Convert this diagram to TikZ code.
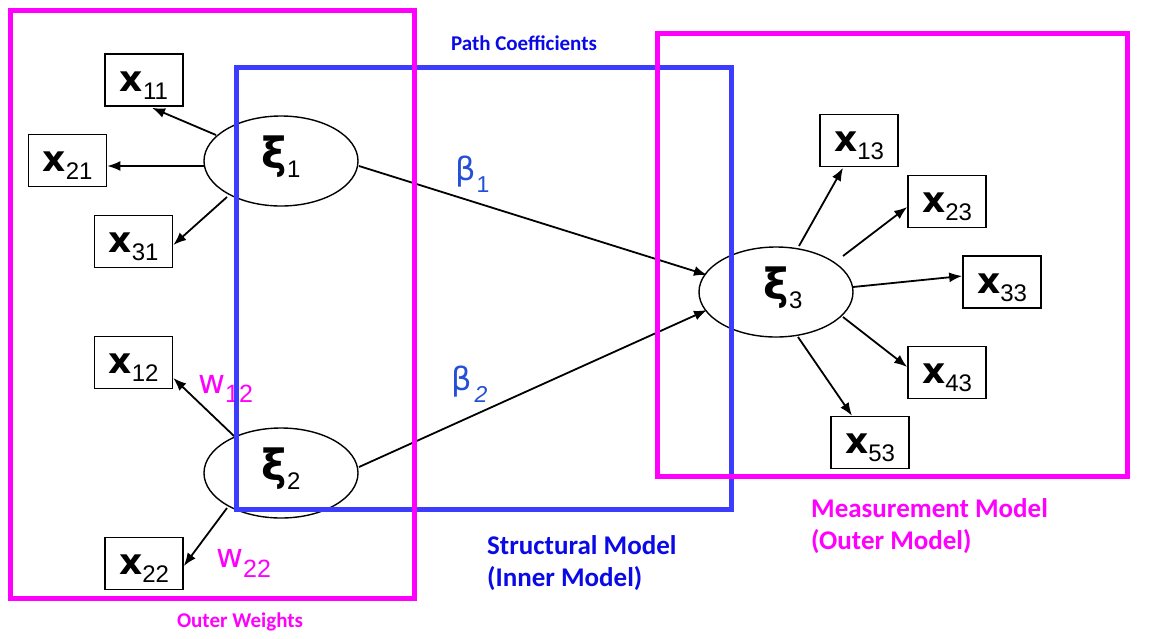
\documentclass[tikz,border=0pt]{standalone}
\usepackage{fontspec}
\setmainfont{Liberation Sans}
\newfontfamily\dvs{DejaVu Sans}
\newfontfamily\carl{Carlito}
\usetikzlibrary{shapes.geometric,arrows.meta,calc}
\definecolor{mag}{RGB}{255,0,255}
\definecolor{bbox}{RGB}{60,60,255}
\definecolor{btxt}{RGB}{10,10,230}
\definecolor{betac}{RGB}{35,80,215}
\newcommand{\xv}[1]{{\dvs\bfseries\fontsize{36}{36}\selectfont x}\raisebox{-8pt}{\fontsize{24}{24}\selectfont #1}}
\newcommand{\xiv}[1]{{\dvs\bfseries\fontsize{43}{43}\selectfont ξ}\raisebox{-9pt}{\fontsize{24}{24}\selectfont #1}}
\begin{document}
\begin{tikzpicture}[x=1pt,y=-1pt,
  box/.style={draw=black, line width=1.6pt, fill=white, minimum width=78pt, minimum height=52pt, inner sep=0pt, text height=25pt, text depth=3pt},
  lat/.style={ellipse, draw=black, line width=1.4pt, fill=white, minimum width=154pt, minimum height=90pt, inner sep=0pt, text height=22pt, text depth=7pt},
  arr/.style={line width=1.8pt, -{Latex[length=13pt,width=10pt]}},
  magbox/.style={draw=mag, line width=5pt},
  bluebox/.style={draw=bbox, line width=5pt},
  lbl/.style={inner sep=0pt, font=\carl\bfseries\fontsize{21}{25}\selectfont},
  big/.style={inner sep=0pt, align=left, font=\carl\bfseries\fontsize{27}{32}\selectfont},
  wl/.style={inner sep=0pt, anchor=base west, text=mag},
  bl/.style={inner sep=0pt, anchor=base west, text=betac}
]
\useasboundingbox (0,0) rectangle (1170,638);
\fill[white] (0,0) rectangle (1170,638);

% latent variables
\node[lat] (xi1) at (281,161) {\xiv{1}};
\node[lat] (xi2) at (281,473) {\xiv{2}};
\node[lat] (xi3) at (776,292) {\hspace*{14pt}\xiv{3}};

% indicators
\node[box] (x11) at (144,80) {\xv{11}};
\node[box] (x21) at (67.5,160.5) {\xv{21}};
\node[box] (x31) at (133.5,241.5) {\xv{31}};
\node[box] (x12) at (133.5,362.5) {\xv{12}};
\node[box] (x22) at (144,563.5) {\xv{22}};
\node[box] (x13) at (859,140.5) {\xv{13}};
\node[box] (x23) at (947,201.5) {\xv{23}};
\node[box] (x33) at (1002,282) {\xv{33}};
\node[box] (x43) at (947,372.5) {\xv{43}};
\node[box] (x53) at (870,442.5) {\xv{53}};

% arrows
\draw[arr] ($(xi1)+(-65,-26)$) -- ($(x11.south)+(8,1)$);
\draw[arr] ($(xi1)+(-77,5)$) -- ($(x21.east)+(0,5.5)$);
\draw[arr] ($(xi1)+(-54,36)$) -- ($(x31.east)+(0,3.5)$);
\draw[arr] ($(xi2)+(-47,-37)$) -- ($(x12.east)+(0,15.5)$);
\draw[arr] ($(xi2)+(-54,35)$) -- ($(x22.east)+(0,2.5)$);
\draw[arr] ($(xi1)+(78,5)$) -- ($(xi3)+(-69,-17)$);
\draw[arr] ($(xi2)+(78,-6)$) -- ($(xi3)+(-69,18)$);
\draw[arr] ($(xi3)+(23,-46)$) -- ($(x13.south)+(-16,0.5)$);
\draw[arr] ($(xi3)+(67,-36)$) -- ($(x23.west)+(0,5.5)$);
\draw[arr] ($(xi3)+(77,-5)$) -- ($(x33.west)+(0,-6)$);
\draw[arr] ($(xi3)+(67,25)$) -- ($(x43.west)+(0,-5.5)$);
\draw[arr] ($(xi3)+(22,45)$) -- ($(x53.north)+(-18,0)$);

% weights and coefficients
\node[wl] (w12) at (198,393) {{\dvs\fontsize{33}{33}\selectfont w}\raisebox{-9pt}{\fontsize{25}{25}\selectfont 12}};
\node[wl] (w22) at (216,567) {{\dvs\fontsize{33}{33}\selectfont w}\raisebox{-10pt}{\fontsize{25}{25}\selectfont 22}};
\node[bl] (b1) at (455,180) {{\dvs\fontsize{32}{32}\selectfont β}\hspace{1pt}\raisebox{-12pt}{\fontsize{23}{23}\selectfont 1}};
\node[bl] (b2) at (451,390) {{\dvs\fontsize{32}{32}\selectfont β}\hspace{3pt}\raisebox{-12pt}{\fontsize{23}{23}\selectfont\itshape 2}};

% frames
\draw[bluebox] (236.5,67) rectangle (731,509.5);
\draw[magbox] (10,10.5) rectangle (414,598);
\draw[magbox] (657,33) rectangle (1127,476.5);

% captions
\node[lbl, text=btxt] (pc) at (524,43) {Path Coefficients};
\node[lbl, text=mag] (ow) at (240,622) {Outer Weights};
\node[big, text=btxt, anchor=west] (sm) at (487,563) {Structural Model\\(Inner Model)};
\node[big, text=mag, anchor=west] (mm) at (811,526) {Measurement Model\\(Outer Model)};
\end{tikzpicture}
\end{document}
